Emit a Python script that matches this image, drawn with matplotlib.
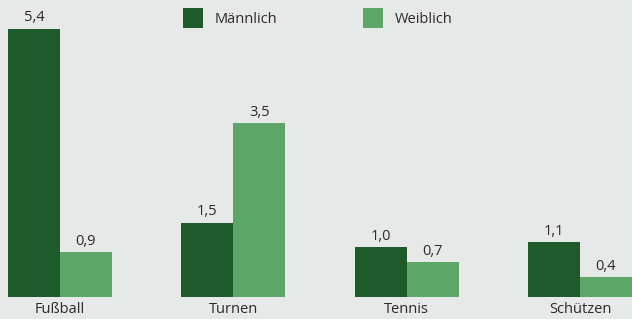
import matplotlib
matplotlib.use("Agg")
import matplotlib.pyplot as plt
import numpy as np

categories = ["Fußball", "Turnen", "Tennis", "Schützen"]
male = [5.4, 1.5, 1.0, 1.1]
female = [0.9, 3.5, 0.7, 0.4]
male_labels = ["5,4", "1,5", "1,0", "1,1"]
female_labels = ["0,9", "3,5", "0,7", "0,4"]
series_names = ["Männlich", "Weiblich"]

dark = "#1f5a2b"
light = "#5ea667"
bg = "#e7e9e9"
txt = "#2a2a2a"

plt.rcParams['font.family'] = ['Open Sans', 'DejaVu Sans']

W, H = 632, 319
fig = plt.figure(figsize=(W / 100, H / 100), dpi=100, facecolor=bg)
ax = fig.add_axes([0, 22 / H, 1, 297 / H])
ax.set_facecolor(bg)

x = np.arange(len(categories))
w = 0.3
b1 = ax.bar(x - w / 2, male, w, color=dark, label=series_names[0])
b2 = ax.bar(x + w / 2, female, w, color=light, label=series_names[1])

fs = 10.5
for bars, labs in ((b1, male_labels), (b2, female_labels)):
    for rect, lab in zip(bars, labs):
        ax.annotate(lab, (rect.get_x() + rect.get_width() / 2, rect.get_height()),
                    xytext=(0, 2.5), textcoords="offset points", ha="center", va="bottom",
                    fontsize=fs, color=txt, fontweight="medium")

ax.set_xlim(-0.346, 3.3)
ax.set_ylim(0, 5.98)
ax.set_xticks(x)
ax.set_xticklabels(categories, fontsize=fs, color=txt, fontweight="medium")
ax.tick_params(axis="x", length=0, pad=3.5)
ax.set_yticks([])
for s in ax.spines.values():
    s.set_visible(False)

leg = fig.legend(handles=[b1, b2], loc="upper left", bbox_to_anchor=(183 / W, 1 - 8 / H),
                 ncol=2, frameon=False, prop={"size": fs, "weight": "medium"},
                 handlelength=1.4, handleheight=1.75,
                 handletextpad=0.75, columnspacing=5.9, borderpad=0, borderaxespad=0)
for t in leg.get_texts():
    t.set_color(txt)

fig.savefig("out.png", dpi=100, facecolor=bg)
